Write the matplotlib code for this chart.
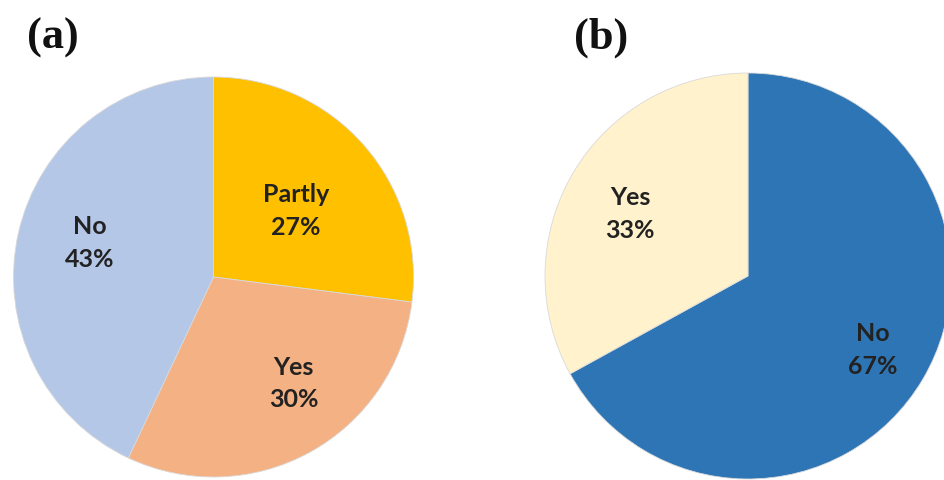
import matplotlib
matplotlib.use("Agg")
from matplotlib import pyplot as plt
import numpy as np

# (a) clockwise from 12 o'clock
names_a = ["Partly", "Yes", "No"]
values_a = [27, 30, 43]
colors_a = ["#FFC000", "#F4B183", "#B4C7E7"]

# (b)
names_b = ["No", "Yes"]
values_b = [67, 33]
colors_b = ["#2E75B6", "#FFF2CC"]

W, H = 944, 480
fig = plt.figure(figsize=(W / 100, H / 100), dpi=100)
fig.patch.set_facecolor("white")


def px_axes(cx, cy, r):
    # axes box in pixel coords (y from top), square around pie centre
    return fig.add_axes([(cx - r) / W, (H - cy - r) / H, 2 * r / W, 2 * r / H])


def draw_pie(ax, names, values, colors, dists, shifts):
    labels = [f"{n}\n{v}%" for n, v in zip(names, values)]
    wedges, texts = ax.pie(values, colors=colors, startangle=90, counterclock=False,
                           labels=labels,
                           wedgeprops=dict(edgecolor="#d9d9d9", linewidth=0.6),
                           textprops=dict(family="Lato", weight="bold", fontsize=18,
                                          color="#222222", linespacing=1.5))
    # label placement: distance from centre and angular nudge (deg, ccw)
    for w, t, d, s in zip(wedges, texts, dists, shifts):
        ang = np.deg2rad((w.theta1 + w.theta2) / 2 + s)
        t.set_position((d * np.cos(ang), d * np.sin(ang) - 0.01))
        t.set_ha("center")
        t.set_va("center")
    ax.set_xlim(-1, 1)
    ax.set_ylim(-1, 1)
    ax.set_aspect("equal")
    ax.axis("off")


ax1 = px_axes(213.5, 277, 200)
draw_pie(ax1, names_a, values_a, colors_a, [0.535, 0.66, 0.646], [-2, 8.7, -3.6])

ax2 = px_axes(748, 276, 203)
draw_pie(ax2, names_b, values_b, colors_b, [0.71, 0.66], [0.6, 2])

fig.text(27 / W, 1 - 38 / H, "(a)", family="Liberation Serif", weight="bold",
         fontsize=32, ha="left", va="center", color="#111111")
fig.text(574 / W, 1 - 38 / H, "(b)", family="Liberation Serif", weight="bold",
         fontsize=32, ha="left", va="center", color="#111111")

fig.savefig("out.png", dpi=100)
